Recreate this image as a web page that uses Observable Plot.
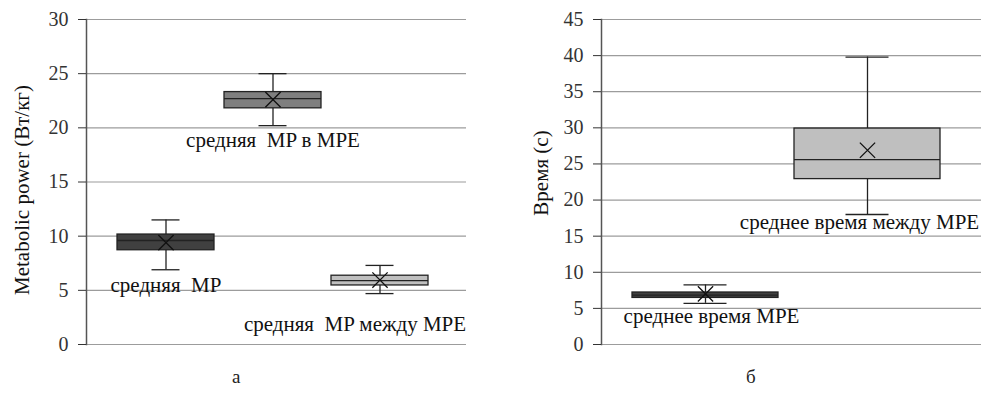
<!DOCTYPE html>
<html><head><meta charset="utf-8">
<script src="https://cdn.jsdelivr.net/npm/d3@7"></script>
<script src="https://cdn.jsdelivr.net/npm/@observablehq/plot@0.6"></script>
<style>
body{margin:0;background:#fff;}
#wrap{position:relative;width:983px;height:393px;overflow:hidden;font-family:"Liberation Serif",serif;background:#fff;}
#wrap svg, #wrap svg text{font-family:"Liberation Serif",serif !important;}
#left{position:absolute;left:0;top:0;}
#right{position:absolute;left:490px;top:0;}
.cap{position:absolute;font-size:19px;top:366px;color:#222;}
</style></head><body>
<div id="wrap"><div id="left"></div><div id="right"></div>
<div class="cap" style="left:232px">а</div><div class="cap" style="left:746px">б</div></div>
<script>
// Panel а — Metabolic power
const catsA = ["средняя\u00a0 MP", "средняя\u00a0 MP в MPE", "средняя\u00a0 MP между MPE"];
const minA = [6.9, 20.2, 4.7];
const q1A = [8.7, 21.8, 5.45];
const medA = [9.6, 22.7, 5.9];
const q3A = [10.15, 23.3, 6.35];
const maxA = [11.5, 25.0, 7.3];
const meanA = [9.4, 22.6, 5.95];
const ticksA = [0, 5, 10, 15, 20, 25, 30];
const titleA = "Metabolic power (Вт/кг)";

// Panel б — Время
const catsB = ["среднее время MPE", "среднее время между MPE"];
const minB = [5.7, 18.0];
const q1B = [6.45, 22.9];
const medB = [6.85, 25.6];
const q3B = [7.2, 29.9];
const maxB = [8.25, 39.8];
const meanB = [7.0, 26.9];
const ticksB = [0, 5, 10, 15, 20, 25, 30, 35, 40, 45];
const titleB = "Время (с)";

function panel(o) {
  const rows = o.cats.map((c, i) => ({cat: c, min: o.min[i], q1: o.q1[i], med: o.med[i], q3: o.q3[i], max: o.max[i], mean: o.mean[i], fill: o.fills[i]}));
  const ink = "#222";
  const labels = rows.map((r, i) => Plot.text([r], {
    x: "cat", y: "min", text: "cat", lineAnchor: "bottom",
    dy: o.lab[i][1], dx: o.lab[i][0], fontSize: 21, fill: "#111"
  }));
  return Plot.plot({
    width: o.width, height: 360,
    marginLeft: o.ml, marginRight: o.mr, marginTop: 19, marginBottom: 16,
    style: {fontFamily: "'Liberation Serif', serif", fontSize: "20px", background: "white", overflow: "visible"},
    x: {type: "band", domain: o.cats, paddingInner: o.pi, paddingOuter: o.po, align: o.align, axis: null},
    y: {domain: [o.ticks[0], o.ticks[o.ticks.length - 1]], axis: null},
    color: {type: "identity"},
    marks: [
      Plot.gridY(o.ticks, {stroke: "#9c9c9c", strokeOpacity: 1, strokeWidth: 1.2}),
      Plot.frame({anchor: "left", stroke: "#555", strokeWidth: 1.5}),
      Plot.axisY(o.ticks, {tickSize: 8, tickPadding: 10, fontSize: 20, color: "#333", label: null}),
      Plot.text([o.title], {frameAnchor: "left", textAnchor: "middle", rotate: -90, dx: o.tdx, dy: o.tdy, fontSize: 21, fill: "#111", lineAnchor: "middle"}),
      Plot.ruleX(rows, {x: "cat", y1: "min", y2: "q1", stroke: ink, strokeWidth: 1.3}),
      Plot.ruleX(rows, {x: "cat", y1: "q3", y2: "max", stroke: ink, strokeWidth: 1.3}),
      Plot.tickY(rows, {x: "cat", y: "max", insetLeft: o.cap, insetRight: o.cap, stroke: ink, strokeWidth: 1.3}),
      Plot.tickY(rows, {x: "cat", y: "min", insetLeft: o.cap, insetRight: o.cap, stroke: ink, strokeWidth: 1.3}),
      Plot.barY(rows, {x: "cat", y1: "q1", y2: "q3", fill: "fill", stroke: ink, strokeWidth: 1.3}),
      Plot.tickY(rows, {x: "cat", y: "med", stroke: ink, strokeWidth: 1.3}),
      Plot.dot(rows, {x: "cat", y: "mean", symbol: "times", r: 7, stroke: "#111", strokeWidth: 1.3}),
      ...labels
    ]
  });
}

document.getElementById("left").appendChild(panel({
  cats: catsA, min: minA, q1: q1A, med: medA, q3: q3A, max: maxA, mean: meanA,
  fills: ["#404040", "#7f7f7f", "#bfbfbf"], ticks: ticksA, title: titleA,
  width: 490, ml: 86, mr: 24, pi: 0.098, po: 0.316, align: 0.45, cap: 34.5,
  lab: [[0, 22], [0, 21], [-25, 37]], tdx: -64, tdy: 8
}));
document.getElementById("right").appendChild(panel({
  cats: catsB, min: minB, q1: q1B, med: medB, q3: q3B, max: maxB, mean: meanB,
  fills: ["#404040", "#bfbfbf"], ticks: ticksB, title: titleB,
  width: 493, ml: 111, mr: 2, pi: 0.097, po: 0.219, align: 0.43, cap: 51.5,
  lab: [[6, 20], [-8, 14]], tdx: -60, tdy: -9
}));
</script>
</body></html>
